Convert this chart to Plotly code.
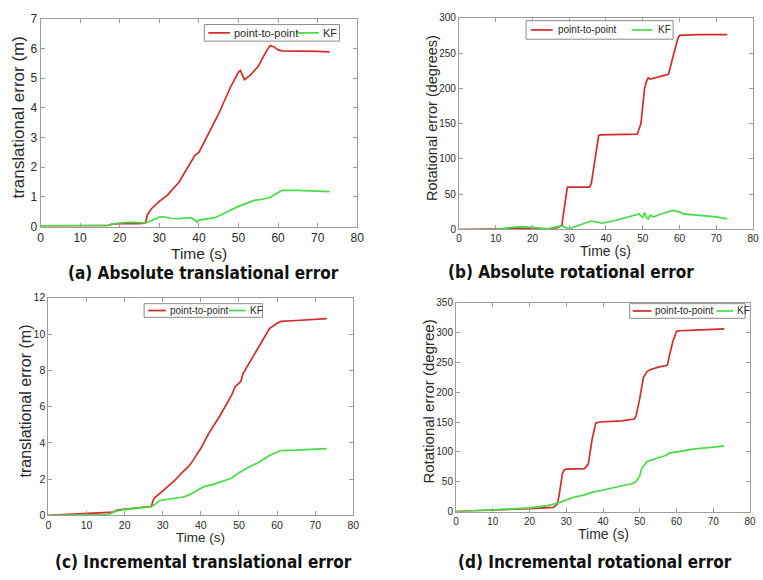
import plotly.graph_objects as go

W, H = 763, 580

# ---- (a) absolute translational error ----
t_a_p2p = [0, 5, 10, 15, 17, 18, 20, 25, 26.5, 27, 28, 30, 32, 35, 38, 39, 40, 42, 45, 48, 50,
           50.5, 51.5, 53, 55, 57, 58, 59, 60, 61, 65, 70, 73]
e_a_p2p = [0.02, 0.02, 0.02, 0.02, 0.03, 0.08, 0.1, 0.1, 0.12, 0.4, 0.6, 0.85, 1.05, 1.5, 2.2, 2.4,
           2.5, 3.0, 3.8, 4.7, 5.2, 5.25, 4.95, 5.1, 5.4, 5.9, 6.1, 6.05, 5.95, 5.92, 5.92, 5.9, 5.88]
t_a_kf = [0, 5, 10, 15, 17, 18, 20, 23, 26.5, 28, 30, 31, 33, 35, 38, 39, 39.5, 40, 42, 44, 46, 48,
          50, 52, 54, 56, 58, 60, 61, 65, 70, 73]
e_a_kf = [0.02, 0.02, 0.02, 0.02, 0.03, 0.08, 0.12, 0.15, 0.12, 0.2, 0.32, 0.33, 0.28, 0.27, 0.3,
          0.22, 0.15, 0.22, 0.25, 0.3, 0.42, 0.55, 0.68, 0.78, 0.88, 0.92, 0.98, 1.15, 1.22, 1.22,
          1.2, 1.18]

# ---- (b) absolute rotational error ----
t_b_p2p = [0, 10, 12, 15, 20, 25, 27, 28, 28.5, 29.5, 30, 35.5, 36, 38, 38.5, 43, 48.5, 49.5, 50.5,
           51, 51.5, 52, 54, 56, 57, 58, 59.5, 60, 65, 73]
e_b_p2p = [0, 0, 1, 2, 2, 1, 3, 6, 25, 60, 60, 60, 65, 133, 134, 134, 135, 150, 200, 210, 215, 213,
           216, 218, 220, 240, 270, 275, 276, 276]
t_b_kf = [0, 10, 13, 17, 20, 24, 27, 28, 29, 30, 32, 35, 36, 38, 39, 42, 45, 48, 49, 50, 50.5, 51,
          51.5, 52, 53, 55, 57, 58, 59, 60, 61, 65, 70, 73]
e_b_kf = [0, 0, 2, 4, 3, 1, 4, 5, 3, 1, 5, 11, 12, 10, 9, 12, 16, 20, 22, 17, 24, 17, 15, 20, 18,
          22, 26, 27, 26, 25, 22, 20, 18, 15]

# ---- (c) incremental translational error ----
t_c_p2p = [0, 5, 10, 15, 17, 18, 20, 25, 27, 27.5, 28, 30, 33, 35, 37, 38, 40, 42, 45, 48, 49, 50,
           50.5, 51, 53, 55, 57, 58, 60, 61, 65, 70, 73]
e_c_p2p = [0, 0.05, 0.1, 0.15, 0.18, 0.3, 0.35, 0.45, 0.5, 0.85, 1.0, 1.35, 1.9, 2.35, 2.75, 3.05,
           3.7, 4.5, 5.5, 6.6, 7.1, 7.3, 7.4, 7.8, 8.5, 9.2, 9.9, 10.3, 10.6, 10.7, 10.75, 10.8, 10.85]
t_c_kf = [0, 10, 15, 16, 18, 20, 25, 27, 28, 29, 30, 32, 35, 36, 38, 40, 41, 43, 45, 48, 50, 52, 55,
          58, 60, 61, 65, 70, 73]
e_c_kf = [0, 0.02, 0.05, 0.08, 0.25, 0.32, 0.42, 0.48, 0.62, 0.8, 0.85, 0.9, 1.0, 1.05, 1.25, 1.5,
          1.6, 1.7, 1.85, 2.05, 2.35, 2.6, 2.9, 3.3, 3.5, 3.58, 3.6, 3.65, 3.68]

# ---- (d) incremental rotational error ----
t_d_p2p = [0, 10, 20, 26.5, 27.5, 28, 29, 29.5, 30, 35, 36, 37, 38, 39, 45, 48.5, 49, 50, 51, 52,
           53, 55, 57.5, 58, 59, 60, 61, 65, 73]
e_d_p2p = [0, 2, 5, 7, 12, 25, 65, 70, 71, 72, 80, 120, 148, 150, 152, 155, 160, 190, 225, 235, 238,
           242, 245, 260, 285, 302, 303, 304, 306]
t_d_kf = [0, 5, 10, 15, 20, 25, 28, 30, 32, 35, 37, 40, 43, 46, 48, 49, 50, 50.5, 51, 52, 54, 56,
          57, 58, 60, 61, 65, 70, 73]
e_d_kf = [0, 1, 2, 4, 6, 10, 15, 19, 24, 28, 32, 36, 40, 44, 47, 50, 60, 72, 76, 84, 88, 92, 94, 98,
          100, 102, 105, 108, 110]

panels = [
    dict(t1=t_a_p2p, e1=e_a_p2p, t2=t_a_kf, e2=e_a_kf, yrange=[0, 7], ydtick=1,
         box=(38, 12, 359, 225), tickfont=12,
         ytitle="translational error (m)", ytitle_x=16, ytitle_size=17,
         xtitle_y=253, xtitle_size=15.5,
         caption="(a) Absolute translational error", cap=(203, 273),
         leg=dict(box=(204, 18, 341, 35), red=(208, 230), txt1=232, green=(297, 320), txt2=322, fs=11)),
    dict(t1=t_b_p2p, e1=e_b_p2p, t2=t_b_kf, e2=e_b_kf, yrange=[0, 300], ydtick=50,
         box=(462, 11, 760, 228), tickfont=10,
         ytitle="Rotational error (degrees)", ytitle_x=434, ytitle_size=14.5,
         xtitle_y=250, xtitle_size=14,
         caption="(b) Absolute rotational error", cap=(576, 272),
         leg=dict(box=(530, 14, 679, 33), red=(535, 557), txt1=560, green=(637, 658), txt2=662, fs=10)),
    dict(t1=t_c_p2p, e1=e_c_p2p, t2=t_c_kf, e2=e_c_kf, yrange=[0, 12], ydtick=2,
         box=(46, 298, 355, 521), tickfont=10.5,
         ytitle="translational error (m)", ytitle_x=23, ytitle_size=16,
         xtitle_y=544, xtitle_size=13.5,
         caption="(c) Incremental translational error", cap=(203, 569),
         leg=dict(box=(143, 304, 263, 318), red=(147, 165), txt1=167, green=(229, 246), txt2=248, fs=10)),
    dict(t1=t_d_p2p, e1=e_d_p2p, t2=t_d_kf, e2=e_d_kf, yrange=[0, 350], ydtick=50,
         box=(459, 303, 757, 517), tickfont=10,
         ytitle="Rotational error (degree)", ytitle_x=431, ytitle_size=15,
         xtitle_y=540, xtitle_size=14,
         caption="(d) Incremental rotational error", cap=(600, 569),
         leg=dict(box=(635, 304, 752, 319), red=(638, 657), txt1=659, green=(723, 740), txt2=742, fs=10)),
]

RED = "#d42b2b"
GREEN = "#45dd45"
FRAME = "#9c9c9c"
TEXT = "#2a2a2a"
FONT = "Liberation Sans, Arial, sans-serif"
CAP_FONT = "DejaVu Sans Condensed, Open Sans, sans-serif"


def px(x):
    return x / W


def py(y):
    return 1 - y / H


fig = go.Figure()
shapes, annotations = [], []

for i, p in enumerate(panels, start=1):
    xa = "x" if i == 1 else f"x{i}"
    ya = "y" if i == 1 else f"y{i}"
    fig.add_trace(go.Scatter(x=p["t1"], y=p["e1"], mode="lines", name="point-to-point",
                             line=dict(color=RED, width=1.7), xaxis=xa, yaxis=ya, showlegend=False))
    fig.add_trace(go.Scatter(x=p["t2"], y=p["e2"], mode="lines", name="KF",
                             line=dict(color=GREEN, width=1.7), xaxis=xa, yaxis=ya, showlegend=False))

    x0, y0, x1, y1 = p["box"]
    axis_common = dict(showline=True, linecolor=FRAME, linewidth=1, mirror="ticks",
                       ticks="inside", ticklen=4, tickcolor=FRAME, showgrid=False,
                       zeroline=False, tickfont=dict(family=FONT, size=p["tickfont"], color=TEXT))
    xname = "xaxis" if i == 1 else f"xaxis{i}"
    yname = "yaxis" if i == 1 else f"yaxis{i}"
    fig.update_layout({
        xname: dict(domain=[px(x0), px(x1)], range=[0, 80], dtick=10, tick0=0,
                    anchor=ya, **axis_common),
        yname: dict(domain=[py(y1), py(y0)], range=p["yrange"], dtick=p["ydtick"], tick0=0,
                    anchor=xa, **axis_common),
    })

    # axis titles
    annotations.append(dict(x=px((x0 + x1) / 2), y=py(p["xtitle_y"]), xref="paper", yref="paper",
                            text="Time (s)", showarrow=False, xanchor="center", yanchor="middle",
                            font=dict(family=FONT, size=p["xtitle_size"], color=TEXT)))
    annotations.append(dict(x=px(p["ytitle_x"]), y=py((y0 + y1) / 2 - 6), xref="paper", yref="paper",
                            text=p["ytitle"], showarrow=False, textangle=-90,
                            xanchor="center", yanchor="middle",
                            font=dict(family=FONT, size=p["ytitle_size"], color=TEXT)))
    # caption
    annotations.append(dict(x=px(p["cap"][0]), y=py(p["cap"][1]), xref="paper", yref="paper",
                            text="<b>" + p["caption"] + "</b>", showarrow=False,
                            xanchor="center", yanchor="middle",
                            font=dict(family=CAP_FONT, size=17, color="#111111")))

    # legend box
    lg = p["leg"]
    bx0, by0, bx1, by1 = lg["box"]
    ym = (by0 + by1) / 2
    shapes.append(dict(type="rect", xref="paper", yref="paper", x0=px(bx0), x1=px(bx1),
                       y0=py(by1), y1=py(by0), line=dict(color="#8a8a8a", width=1),
                       fillcolor="white", layer="above"))
    shapes.append(dict(type="line", xref="paper", yref="paper", x0=px(lg["red"][0]), x1=px(lg["red"][1]),
                       y0=py(ym), y1=py(ym), line=dict(color=RED, width=1.7), layer="above"))
    shapes.append(dict(type="line", xref="paper", yref="paper", x0=px(lg["green"][0]), x1=px(lg["green"][1]),
                       y0=py(ym), y1=py(ym), line=dict(color=GREEN, width=1.7), layer="above"))
    annotations.append(dict(x=px(lg["txt1"]), y=py(ym), xref="paper", yref="paper", text="point-to-point",
                            showarrow=False, xanchor="left", yanchor="middle",
                            font=dict(family=FONT, size=lg["fs"], color=TEXT)))
    annotations.append(dict(x=px(lg["txt2"]), y=py(ym), xref="paper", yref="paper", text="KF",
                            showarrow=False, xanchor="left", yanchor="middle",
                            font=dict(family=FONT, size=lg["fs"], color=TEXT)))

fig.update_layout(width=W, height=H, margin=dict(l=0, r=0, t=0, b=0),
                  paper_bgcolor="white", plot_bgcolor="white",
                  shapes=shapes, annotations=annotations, showlegend=False)

fig.write_html("out.html")
